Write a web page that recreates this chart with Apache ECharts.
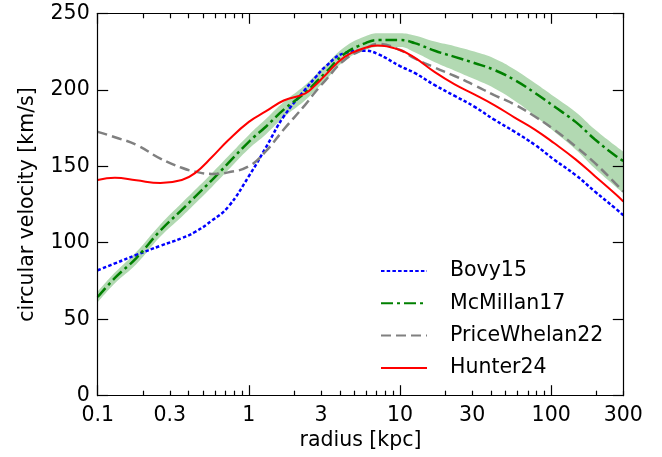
<!DOCTYPE html>
<html><head><meta charset="utf-8">
<script src="https://cdn.jsdelivr.net/npm/echarts@6/dist/echarts.min.js"></script>
<style>html,body{margin:0;padding:0;background:#fff}#c{width:662px;height:457px}</style>
</head><body><div id="c"></div>
<script>
const radius = [0.1, 0.13, 0.18, 0.26, 0.36, 0.44, 0.57, 0.73, 1.0, 1.3, 1.7, 2.35, 2.75, 3.2, 4.3, 5.9, 7.1, 10, 12.5, 17, 23, 31, 42, 57, 78, 105, 145, 195, 265, 300];
const bovy15 = [82, 86.5, 92, 98, 103, 107, 114.5, 123.5, 143.5, 162.5, 182.5, 200, 208, 215, 224, 225.5, 223.5, 215.5, 211, 203, 196, 189, 180.5, 172.7, 164, 154.2, 144.3, 133.4, 122.6, 118];
const mcmillan17 = [64.5, 77, 90, 108, 121.5, 130, 141, 152, 166, 176, 187, 198, 204.5, 211, 223.5, 230.5, 232.5, 232.5, 230.5, 225.5, 221.5, 217.5, 213, 206.5, 198, 189, 179, 167.5, 157, 153.5];
const mcmillan17Low = [61, 73.5, 86, 104, 117, 125.5, 136.5, 147.5, 161.5, 171, 182, 193, 199.5, 206, 219, 226, 228, 228, 224.5, 218, 212.5, 207, 201, 193, 183, 172.5, 161, 148.5, 137, 132.5];
const mcmillan17High = [68, 80.5, 94, 112, 126, 134.5, 145.5, 156.5, 170.5, 181, 192, 203, 209.5, 216, 228, 235, 237, 237, 235.5, 231.5, 228.5, 225, 220.5, 213.5, 204.5, 195.5, 185.5, 174, 163.5, 159.5];
const priceWhelan22 = [172.5, 169, 164, 155, 149, 146.5, 145, 146, 150, 160, 174, 190, 198.5, 206, 219.5, 227, 230, 226, 220.5, 214.5, 209, 203, 196.5, 190.5, 182.5, 173.8, 163, 152, 139, 133.5];
const hunter24 = [141, 142.5, 140.8, 139, 141, 145.5, 156, 167, 179, 186, 193, 197.5, 203, 209.5, 221.5, 227.5, 229, 226, 221, 211.5, 203.5, 197, 190, 182, 174, 165, 154.5, 143.5, 132, 127];

const xLabelValues = [0.1, 0.3, 1, 3, 10, 30, 100, 300];
const xMajorTicks = [0.1, 1, 10, 100];
const xMinorTicks = [0.2,0.3,0.4,0.5,0.6,0.7,0.8,0.9,2,3,4,5,6,7,8,9,20,30,40,50,60,70,80,90,200,300];
const seriesNames = ['Bovy15', 'McMillan17', 'PriceWhelan22', 'Hunter24'];

const FONT = 'DejaVu Sans';
const TICK = '#000';
const pairs = arr => radius.map((r, i) => [r, arr[i]]);

function xAxisDef(position, ticks, len, showLine, showLabel) {
  return {
    type: 'log', logBase: 10, min: 0.1, max: 300, position: position, z: 10,
    axisLine: { show: showLine, onZero: false, lineStyle: { color: '#000', width: 1.2 } },
    axisTick: { show: true, inside: true, length: len, customValues: ticks, lineStyle: { color: TICK, width: 1.2 } },
    axisLabel: showLabel ? {
      show: true, customValues: xLabelValues, margin: 9, color: '#000', fontSize: 20.5, fontFamily: FONT,
      formatter: v => String(Number(Number(v).toPrecision(3)))
    } : { show: false },
    splitLine: { show: false }, minorTick: { show: false }
  };
}

const chart = echarts.init(document.getElementById('c'), null, { renderer: 'canvas' });
const base = { type: 'line', xAxisIndex: 0, yAxisIndex: 0, symbol: 'none', showSymbol: false, smooth: 0.45, animation: false };
chart.setOption({
  animation: false,
  backgroundColor: '#fff',
  grid: { left: 97.7, right: 38.7, top: 13.3, bottom: 61.3, containLabel: false },
  legend: {
    data: seriesNames, orient: 'vertical', left: 380, top: 260.5,
    itemWidth: 46, itemHeight: 14, itemGap: 11.3, padding: 0,
    itemStyle: { opacity: 0 },
    textStyle: { fontSize: 20.5, fontFamily: FONT, color: '#000', lineHeight: 20, padding: [0, 0, 0, 18] }
  },
  xAxis: [
    Object.assign(xAxisDef('bottom', xMajorTicks, 10.5, true, true), {
      name: 'radius [kpc]', nameLocation: 'middle', nameGap: 28,
      nameTextStyle: { fontSize: 20.5, fontFamily: FONT, color: '#000' }
    }),
    xAxisDef('bottom', xMinorTicks, 5, false, false),
    xAxisDef('top', xMajorTicks, 10.5, true, false),
    xAxisDef('top', xMinorTicks, 5, false, false)
  ],
  yAxis: [
    {
      type: 'value', min: 0, max: 250, interval: 50, position: 'left', z: 10,
      axisLine: { show: true, onZero: false, lineStyle: { color: '#000', width: 1.2 } },
      axisTick: { show: true, inside: true, length: 10.5, lineStyle: { color: TICK, width: 1.2 } },
      axisLabel: { margin: 8, color: '#000', fontSize: 20.5, fontFamily: FONT },
      splitLine: { show: false },
      name: 'circular velocity [km/s]', nameLocation: 'middle', nameGap: 60, nameRotate: 90,
      nameTextStyle: { fontSize: 20.5, fontFamily: FONT, color: '#000' }
    },
    {
      type: 'value', min: 0, max: 250, interval: 50, position: 'right', z: 10,
      axisLine: { show: true, onZero: false, lineStyle: { color: '#000', width: 1.2 } },
      axisTick: { show: true, inside: true, length: 10.5, lineStyle: { color: TICK, width: 1.2 } },
      axisLabel: { show: false }, splitLine: { show: false }
    }
  ],
  series: [
    Object.assign({}, base, { name: 'bandHigh', data: pairs(mcmillan17High), lineStyle: { opacity: 0, width: 0 },
      areaStyle: { color: '#b2d9b2', opacity: 1, origin: 'start' }, silent: true, z: 1 }),
    Object.assign({}, base, { name: 'bandLow', data: pairs(mcmillan17Low), lineStyle: { opacity: 0, width: 0 },
      areaStyle: { color: '#ffffff', opacity: 1, origin: 'start' }, silent: true, z: 1 }),
    Object.assign({}, base, { name: 'Bovy15', data: pairs(bovy15), color: '#0000ff', z: 3,
      lineStyle: { color: '#0000ff', width: 2.5, type: [3.5, 2.2] } }),
    Object.assign({}, base, { name: 'McMillan17', data: pairs(mcmillan17), color: '#008000', z: 4,
      lineStyle: { color: '#008000', width: 2.5, type: [12, 4, 3, 4] } }),
    Object.assign({}, base, { name: 'PriceWhelan22', data: pairs(priceWhelan22), color: '#808080', z: 5,
      lineStyle: { color: '#808080', width: 2.5, type: [10, 5] } }),
    Object.assign({}, base, { name: 'Hunter24', data: pairs(hunter24), color: '#ff0000', z: 6,
      lineStyle: { color: '#ff0000', width: 2, type: 'solid' } })
  ]
});
</script></body></html>
